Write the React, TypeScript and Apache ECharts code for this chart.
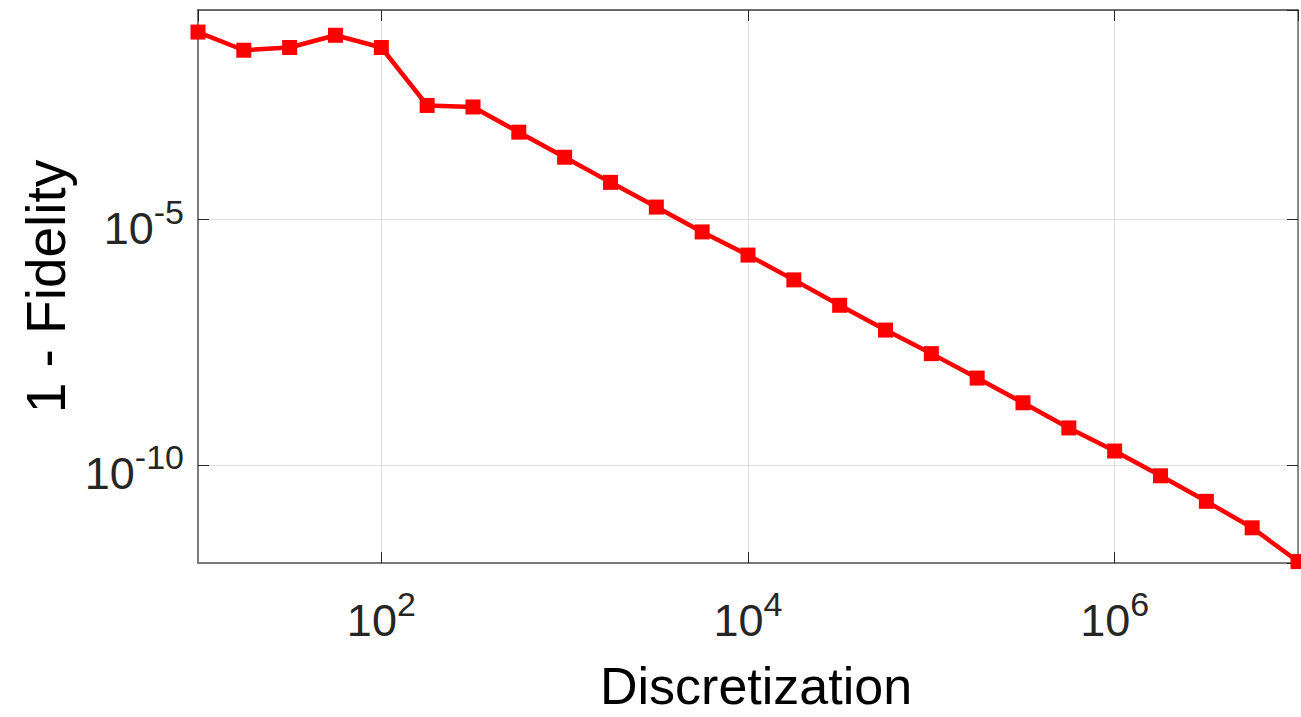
import React, { useEffect, useRef } from 'react';
import * as echarts from 'echarts';

// Discretization values (x) and 1 - Fidelity values (y)
const xValues = [
  10, 17.78, 31.62, 56.23, 100, 177.8, 316.2, 562.3, 1000, 1778, 3162, 5623,
  10000, 17783, 31623, 56234, 100000, 177828, 316228, 562341, 1000000,
  1778279, 3162278, 5623413, 10000000,
];
const yValues = [
  0.0671, 0.0286, 0.0325, 0.0577, 0.0325, 2.14e-3, 1.99e-3, 6.1e-4, 1.88e-4,
  5.78e-5, 1.81e-5, 5.64e-6, 1.9e-6, 5.93e-7, 1.8e-7, 5.62e-8, 1.86e-8,
  5.9e-9, 1.85e-9, 5.68e-10, 1.92e-10, 6.0e-11, 1.81e-11, 5.22e-12, 1.07e-12,
];
const xTickExponents = [2, 4, 6];
const yTickExponents = [-5, -10];
const xRange = [10, 1e7];
const yRange = [1e-12, 0.189];
const xName = 'Discretization';
const yName = '1 - Fidelity';

const FONT = "'Liberation Sans', Arial, Helvetica, sans-serif";

function powLabel(exps: number[]) {
  return (v: number) => {
    const l = Math.log10(v);
    const e = Math.round(l);
    if (Math.abs(l - e) > 1e-6 || exps.indexOf(e) < 0) return '';
    return `{b|10}{s|${e}}`;
  };
}

const rich = {
  b: { fontSize: 45, fontFamily: FONT, color: '#262626', lineHeight: 45, padding: [18, 0, 0, 0] },
  s: { fontSize: 34, fontFamily: FONT, color: '#262626', lineHeight: 34, padding: [0, 0, 16, 0] },
};

export default function App() {
  const ref = useRef<HTMLDivElement>(null);
  useEffect(() => {
    if (!ref.current) return;
    const chart = echarts.init(ref.current, undefined, { renderer: 'svg' });
    const data = xValues.map((x, i) => [x, yValues[i]]);
    const tickStyle = { show: true, inside: true, length: 11, lineStyle: { color: '#262626', width: 1 } };
    chart.setOption({
      animation: false,
      backgroundColor: '#ffffff',
      grid: { left: 198, top: 10, right: 3, bottom: 150, show: false },
      xAxis: [
        {
          type: 'log',
          logBase: 100,
          min: xRange[0],
          max: xRange[1],
          position: 'bottom',
          axisLine: { show: true, lineStyle: { color: '#7a7a7a', width: 2 } },
          axisTick: tickStyle,
          axisLabel: {
            formatter: powLabel(xTickExponents),
            margin: 26,
            showMinLabel: false,
            showMaxLabel: false,
            fontSize: 45,
            fontFamily: FONT,
            color: '#262626',
            rich,
          },
          splitLine: { show: true, lineStyle: { color: '#dedede', width: 1 } },
          name: xName,
          nameLocation: 'middle',
          nameGap: 97,
          nameTextStyle: { fontSize: 52, fontFamily: FONT, color: '#000000', lineHeight: 52, padding: [0, 0, 0, 16] },
        },
        {
          type: 'log',
          logBase: 100,
          min: xRange[0],
          max: xRange[1],
          position: 'top',
          axisLine: { show: true, lineStyle: { color: '#404040', width: 1.5 } },
          axisTick: tickStyle,
          axisLabel: { show: false },
          splitLine: { show: false },
        },
      ],
      yAxis: [
        {
          type: 'log',
          logBase: 100000,
          min: yRange[0],
          max: yRange[1],
          position: 'left',
          axisLine: { show: true, lineStyle: { color: '#7a7a7a', width: 2 } },
          axisTick: tickStyle,
          axisLabel: {
            formatter: powLabel(yTickExponents),
            margin: 14,
            showMinLabel: false,
            showMaxLabel: false,
            fontSize: 45,
            fontFamily: FONT,
            color: '#262626',
            rich,
          },
          splitLine: { show: true, lineStyle: { color: '#dedede', width: 1 } },
          name: yName,
          nameLocation: 'middle',
          nameRotate: 90,
          nameGap: 113,
          nameTextStyle: { fontSize: 55, fontFamily: FONT, color: '#000000', lineHeight: 55 },
        },
        {
          type: 'log',
          logBase: 100000,
          min: yRange[0],
          max: yRange[1],
          position: 'right',
          axisLine: { show: true, lineStyle: { color: '#6a6a6a', width: 1.5 } },
          axisTick: tickStyle,
          axisLabel: { show: false },
          splitLine: { show: false },
        },
      ],
      series: [
        {
          type: 'line',
          xAxisIndex: 0,
          yAxisIndex: 0,
          data,
          clip: false,
          symbol: 'rect',
          symbolSize: 15,
          showSymbol: true,
          lineStyle: { color: '#ff0000', width: 4.5 },
          itemStyle: { color: '#ff0000' },
          z: 5,
        },
      ],
    });
    return () => chart.dispose();
  }, []);
  return (
    <div
      ref={ref}
      style={{ position: 'absolute', left: 0, top: 0, width: '1301px', height: '717px', background: '#fff' }}
    />
  );
}
